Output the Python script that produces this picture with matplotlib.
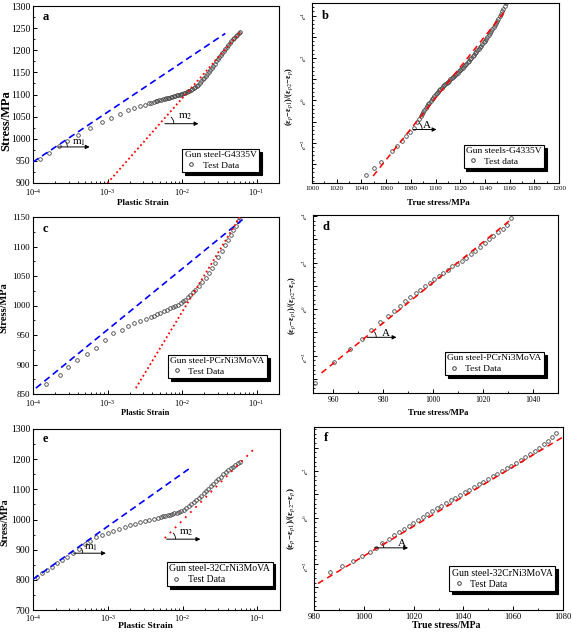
import numpy as np
import matplotlib
matplotlib.use('Agg')
import matplotlib.pyplot as plt
from matplotlib import ticker
from matplotlib.patches import Arc
import matplotlib.transforms as mtransforms

plt.rcParams['font.family'] = ['Liberation Serif', 'DejaVu Serif']
plt.rcParams['mathtext.fontset'] = 'stix'

# ---- panel a: G4335V, log10(plastic strain) vs stress
a_log_strain = [-3.90, -3.78, -3.65, -3.54, -3.39, -3.23, -3.07, -2.95, -2.83, -2.73,
                -2.65, -2.57, -2.50,
                -2.44, -2.41, -2.38, -2.355, -2.33, -2.305, -2.28, -2.255, -2.23, -2.21,
                -2.19, -2.17, -2.15, -2.13, -2.11, -2.09, -2.07, -2.05, -2.03, -2.015,
                -2.00, -1.98, -1.96, -1.94, -1.92, -1.90, -1.88, -1.86, -1.84, -1.82,
                -1.80, -1.78, -1.76, -1.74, -1.72, -1.70, -1.68, -1.66, -1.64, -1.62,
                -1.60, -1.58, -1.56, -1.54, -1.52, -1.50, -1.48, -1.46, -1.44, -1.42,
                -1.40, -1.38, -1.36, -1.34, -1.32, -1.30, -1.28, -1.26, -1.24, -1.22]
a_stress = [954, 968, 983, 995, 1009, 1025, 1037, 1048, 1057, 1064,
            1070, 1074, 1077,
            1080, 1081.5, 1083, 1084.5, 1086, 1087, 1088, 1089, 1090, 1091,
            1092, 1093, 1094, 1095, 1096, 1097, 1098, 1099, 1100, 1101,
            1102, 1103, 1104, 1105.5, 1107, 1108.5, 1110, 1112, 1114, 1116.5,
            1119, 1122.5, 1126, 1130, 1134, 1138, 1142, 1146.5, 1151, 1155.5,
            1160, 1165, 1170, 1175, 1180, 1184.5, 1189, 1194, 1199, 1203.5,
            1208, 1212.5, 1217, 1221, 1225, 1228.5, 1232, 1235, 1238, 1241]
a_blue_log = [-4.0, -1.42]
a_blue_stress = [947.5, 1238]
a_red_log = [-3.0, -1.22]
a_red_stress = [900, 1240]

# ---- panel b: G4335V, true stress vs ln ratio
b_stress = [1044, 1050, 1056, 1065, 1069, 1072.5, 1076.5, 1079.7, 1082.7, 1085.4,
            1087, 1088, 1089, 1090, 1091, 1092, 1093, 1094, 1095, 1096,
            1097, 1098, 1099, 1100, 1101, 1102, 1103, 1104, 1105, 1106,
            1107, 1108, 1109, 1110, 1111, 1112, 1113, 1114, 1115, 1116,
            1117, 1118, 1119, 1120, 1121, 1122, 1123, 1124, 1125, 1126,
            1127, 1128, 1129, 1130, 1131, 1132, 1133, 1134, 1135, 1136,
            1137, 1138, 1139, 1140, 1141, 1142, 1143, 1144, 1145, 1146,
            1147, 1148, 1149, 1150, 1151, 1152, 1153, 1154, 1155, 1156,
            1157]
b_ln = [-3.52, -3.20, -2.91, -2.39, -2.14, -1.92, -1.69, -1.48, -1.28, -1.02,
        -0.86, -0.75, -0.64, -0.55, -0.46, -0.36, -0.27, -0.19, -0.11, -0.03,
        0.05, 0.12, 0.20, 0.28, 0.36, 0.42, 0.48, 0.54, 0.60, 0.66,
        0.72, 0.77, 0.83, 0.88, 0.94, 0.99, 1.04, 1.10, 1.15, 1.20,
        1.26, 1.31, 1.37, 1.43, 1.49, 1.55, 1.61, 1.67, 1.74, 1.81,
        1.88, 1.95, 2.02, 2.09, 2.16, 2.23, 2.30, 2.37, 2.44, 2.51,
        2.58, 2.66, 2.74, 2.82, 2.91, 3.00, 3.09, 3.17, 3.26, 3.35,
        3.45, 3.55, 3.65, 3.75, 3.86, 3.97, 4.08, 4.20, 4.32, 4.45,
        4.58]
b_fit_stress = [1049.5, 1156.8]
b_fit_ln = [-3.57, 4.25]

# ---- panel c: PCrNi3MoVA
c_log_strain = [-3.82, -3.64, -3.53, -3.41, -3.28, -3.16, -3.03, -2.92, -2.81, -2.73,
                -2.64, -2.56, -2.49, -2.42, -2.38, -2.33, -2.29, -2.24, -2.20, -2.16,
                -2.125, -2.09, -2.055, -2.02, -1.99, -1.96, -1.925, -1.89, -1.855, -1.82,
                -1.775, -1.73, -1.685, -1.64, -1.60, -1.56, -1.515, -1.47, -1.425, -1.38,
                -1.345, -1.31, -1.28, -1.25, -1.23]
c_stress = [867.5, 881.6, 895.2, 907.6, 918.4, 928.5, 941.0, 953.4, 959.0, 964.7,
            970.3, 974.3, 977.1, 979.9, 982.8, 985.6, 987.3, 990.1, 992.9, 995.2,
            996.8, 998.6, 1001.2, 1004.2, 1006.8, 1009.9, 1013.9, 1018.4, 1022.5, 1026.8,
            1032.8, 1039.3, 1047.0, 1055.1, 1063.5, 1072.0, 1082.0, 1091.8, 1101.7, 1111.6,
            1119.5, 1127.4, 1135.0, 1142.7, 1150.0]
c_blue_log = [-3.96, -1.18]
c_blue_stress = [860, 1146.6]
c_red_log = [-2.62, -1.22]
c_red_stress = [860, 1151]

# ---- panel d: PCrNi3MoVA
d_stress = [952.7, 960.4, 966.6, 971.4, 975.2, 978.9, 981.8, 984.3, 986.7, 988.8,
            990.9, 993.0, 994.9, 996.8, 998.6, 1000.5, 1002.3, 1003.9, 1005.8, 1007.6,
            1009.5, 1011.4, 1013.2, 1015.1, 1016.9, 1018.8, 1020.6, 1022.2, 1024.1, 1026.0,
            1027.8, 1029.4, 1031.2]
d_ln = [-3.17, -2.27, -1.73, -1.27, -0.89, -0.57, -0.31, -0.07, 0.13, 0.33,
        0.51, 0.69, 0.83, 0.99, 1.13, 1.29, 1.43, 1.54, 1.69, 1.83,
        1.94, 2.07, 2.20, 2.36, 2.51, 2.67, 2.83, 2.99, 3.14, 3.30,
        3.46, 3.61, 3.90]
d_fit_stress = [955.4, 1031.8]
d_fit_ln = [-2.74, 3.90]

# ---- panel e: 32CrNi3MoVA
e_log_strain = [-3.947, -3.882, -3.816, -3.750, -3.684, -3.618, -3.544, -3.465, -3.386, -3.311,
                -3.237, -3.158, -3.083, -3.004, -2.925, -2.851, -2.776, -2.706, -2.640, -2.575,
                -2.509, -2.447, -2.386, -2.325, -2.294, -2.263, -2.232, -2.202, -2.171, -2.140,
                -2.110, -2.079, -2.048, -2.018, -1.985, -1.952, -1.919, -1.886, -1.853, -1.820,
                -1.787, -1.754, -1.720, -1.689, -1.656, -1.623, -1.590, -1.557, -1.524, -1.491,
                -1.458, -1.425, -1.392, -1.360, -1.327, -1.294, -1.265, -1.237]
e_stress = [810.7, 822.9, 834.0, 844.0, 855.0, 865.0, 877.2, 890.5, 903.8, 918.2,
            930.3, 941.4, 949.2, 956.9, 962.5, 969.1, 974.6, 980.2, 985.7, 990.1,
            994.6, 999.0, 1002.3, 1005.6, 1007.8, 1010.1, 1011.7, 1013.4, 1015.6, 1017.8,
            1020.0, 1022.3, 1025.4, 1028.9, 1033.0, 1037.8, 1043.5, 1049.9, 1056.4, 1063.2,
            1070.8, 1078.7, 1086.5, 1094.2, 1102.5, 1110.8, 1118.6, 1126.4, 1134.2, 1141.9,
            1149.2, 1156.3, 1163.0, 1169.5, 1175.2, 1180.6, 1185.8, 1190.6]
e_blue_log = [-4.0, -1.90]
e_blue_stress = [801.9, 1170.7]
e_red_log = [-2.24, -1.01]
e_red_stress = [938.1, 1242.6]

# ---- panel f: 32CrNi3MoVA
f_stress = [986.3, 991.4, 995.7, 999.3, 1002.4, 1005.0, 1007.4, 1010.0, 1012.1, 1014.1,
            1016.1, 1018.0, 1019.9, 1021.8, 1023.6, 1025.5, 1027.4, 1029.3, 1031.1, 1033.0,
            1034.9, 1036.8, 1038.6, 1040.5, 1042.4, 1044.3, 1046.1, 1048.0, 1049.9, 1051.8,
            1053.6, 1055.5, 1057.4, 1059.3, 1061.1, 1063.0, 1064.9, 1066.7, 1068.6, 1070.5,
            1072.4, 1074.0, 1075.6, 1077.3]
f_ln = [-2.33, -2.07, -1.86, -1.66, -1.47, -1.29, -1.10, -0.93, -0.77, -0.63,
        -0.49, -0.36, -0.23, -0.10, 0.03, 0.16, 0.27, 0.40, 0.51, 0.63,
        0.74, 0.86, 0.97, 1.09, 1.20, 1.31, 1.43, 1.54, 1.66, 1.77,
        1.89, 2.00, 2.11, 2.23, 2.34, 2.47, 2.60, 2.73, 2.86, 3.00,
        3.14, 3.29, 3.46, 3.63]
f_fit_stress = [981.6, 1080]
f_fit_ln = [-2.83, 3.46]

W, H = 572, 632
fig = plt.figure(figsize=(W / 100, H / 100), dpi=100)

RATIO_LABEL = '(ε$_p$−ε$_{p1}$)/(ε$_{p2}$−ε$_p$)'


def box(l, t, r, b):
    # pixel box -> figure fraction
    return [l / W, 1 - b / H, (r - l) / W, (b - t) / H]


def angle_arc(ax, x, y, r, theta2):
    tr = fig.dpi_scale_trans + mtransforms.ScaledTranslation(x, y, ax.transData)
    ax.add_patch(Arc((0, 0), 2 * r / 100, 2 * r / 100, theta1=0, theta2=theta2,
                     transform=tr, color='k', lw=0.6))


def slope_mark(ax, x0, x1, y, text, tx, ty, theta):
    ax.annotate('', xy=(x1, y), xytext=(x0, y),
                arrowprops=dict(arrowstyle='-|>', color='k', lw=0.7,
                                mutation_scale=6, shrinkA=0, shrinkB=0))
    angle_arc(ax, x0, y, 9, theta)
    ax.text(tx, ty, text, fontsize=8, ha='center', va='center')


def add_legend(ax, title, label, x1, y0, fs):
    h, = ax.plot([], [], 'o', ms=2.6, mfc='none', mec='#444', mew=0.7)
    leg = ax.legend([h], [label], title=title, loc='lower right',
                    bbox_to_anchor=(x1, y0), borderaxespad=0, fancybox=False,
                    edgecolor='k', shadow={'color': 'k', 'alpha': 1},
                    fontsize=fs, title_fontsize=fs, alignment='left',
                    handlelength=1.4, handletextpad=0.5, borderpad=0.25,
                    labelspacing=0.2, framealpha=1)
    leg.get_frame().set_linewidth(0.8)


def finish(ax, letter, ly_letter, xpad):
    ax.tick_params(which='both', direction='in', top=False, right=False)
    ax.tick_params(axis='x', pad=xpad)
    ax.tick_params(axis='y', pad=2)
    ax.tick_params(which='major', length=3, width=0.7)
    ax.tick_params(which='minor', length=1.5, width=0.6)
    ax.text(0.04, ly_letter, letter, transform=ax.transAxes, fontsize=9,
            fontweight='bold', va='center')
    for s in ax.spines.values():
        s.set_linewidth(0.8)


def strain_panel(ax, ls, st, bl, bs, rl, rs, ylim, ystep, red_ls, ysize,
                 xlab, ylab):
    ax.set_xscale('log')
    ax.plot(10 ** np.array(ls), st, 'o', ms=2.6, mfc='none', mec='#444', mew=0.6, zorder=2)
    ax.plot(10 ** np.array(bl), bs, color='#0000ff', ls=(0, (4, 2.5)), lw=1.2, zorder=3)
    ax.plot(10 ** np.array(rl), rs, color='red', ls=red_ls, lw=1.3, zorder=3)
    ax.set_xlim(1e-4, 0.2)
    ax.set_ylim(*ylim)
    ax.yaxis.set_major_locator(ticker.MultipleLocator(ystep))
    ax.yaxis.set_minor_locator(ticker.MultipleLocator(ystep / 2))
    ax.xaxis.set_minor_locator(ticker.LogLocator(subs=np.arange(2, 10)))
    ax.xaxis.set_minor_formatter(ticker.NullFormatter())
    ax.tick_params(axis='x', labelsize=6)
    ax.tick_params(axis='y', labelsize=ysize)
    # xlab / ylab: (x, y, fontsize) of the axis labels in axes fraction
    ax.set_xlabel('Plastic Strain', fontsize=xlab[2], fontweight='bold')
    ax.set_ylabel('Stress/MPa', fontsize=ylab[2], fontweight='bold')
    ax.xaxis.set_label_coords(xlab[0], xlab[1])
    ax.yaxis.set_label_coords(ylab[0], ylab[1])


def ln_formatter(v, pos):
    n = int(round(np.log(v)))
    return '$e^{%d}$' % n if n % 2 == 0 else ''


def ln_panel(ax, st, ln, fs_, fl, xlim, ylim, xstep, xsize, xlab, ylab):
    ax.set_yscale('log', base=np.e)
    ax.plot(st, np.exp(ln), 'o', ms=2.6, mfc='none', mec='#444', mew=0.6, zorder=2)
    ax.plot(fs_, np.exp(fl), color='red', ls=(0, (4, 3)), lw=1.1, zorder=3)
    ax.set_xlim(*xlim)
    ax.set_ylim(np.exp(ylim[0]), np.exp(ylim[1]))
    ax.xaxis.set_major_locator(ticker.MultipleLocator(xstep))
    ax.xaxis.set_minor_locator(ticker.MultipleLocator(xstep / 2))
    ax.yaxis.set_major_locator(ticker.FixedLocator(np.exp(np.arange(-6, 7))))
    ax.yaxis.set_major_formatter(ticker.FuncFormatter(ln_formatter))
    ax.yaxis.set_minor_locator(ticker.FixedLocator(np.exp(np.arange(-6, 7, 0.2))))
    ax.yaxis.set_minor_formatter(ticker.NullFormatter())
    ax.tick_params(axis='x', labelsize=xsize)
    ax.tick_params(axis='y', labelsize=5, labelrotation=90)
    ax.set_xlabel('True stress/MPa', fontsize=xlab[2], fontweight='bold')
    ax.set_ylabel(RATIO_LABEL, fontsize=ylab[2], fontweight='bold')
    ax.xaxis.set_label_coords(xlab[0], xlab[1])
    ax.yaxis.set_label_coords(ylab[0], ylab[1])


# a
ax = fig.add_axes(box(33, 6, 279, 183))
strain_panel(ax, a_log_strain, a_stress, a_blue_log, a_blue_stress, a_red_log, a_red_stress,
             (900, 1300), 50, (0, (1, 1.5)), 7, (0.447, -0.09, 6.5), (-0.085, 0.35, 9))
finish(ax, 'a', 0.94, 3)
slope_mark(ax, 10 ** -3.66, 10 ** -3.24, 981.5, 'm$_1$', 10 ** -3.39, 991, 34)
slope_mark(ax, 10 ** -2.23, 10 ** -1.78, 1034, 'm$_2$', 10 ** -1.95, 1049, 49)
add_legend(ax, 'Gun steel-G4335V', 'Test Data', 0.919, 0.062, 6.8)

# b
ax = fig.add_axes(box(312, 3, 559, 183))
ln_panel(ax, b_stress, b_ln, b_fit_stress, b_fit_ln, (1000, 1200), (-3.9, 4.6), 20, 5,
         (0.51, -0.09, 6.5), (-0.07, 0.48, 6))
finish(ax, 'b', 0.93, 2)
slope_mark(ax, 1081.9, 1100.8, np.exp(-1.375), 'A', 1092.7, np.exp(-1.2), 51)
add_legend(ax, 'Gun steels-G4335V', 'Test data', 0.939, 0.083, 6.8)

# c
ax = fig.add_axes(box(33, 217, 279, 394))
strain_panel(ax, c_log_strain, c_stress, c_blue_log, c_blue_stress, c_red_log, c_red_stress,
             (850, 1150), 50, (0, (1, 1.5)), 6.5, (0.458, -0.085, 6), (-0.1, 0.49, 7.5))
finish(ax, 'c', 0.93, 3)
add_legend(ax, 'Gun steel-PCrNi3MoVA', 'Test Data', 0.951, 0.09, 6.8)

# d
ax = fig.add_axes(box(313, 215, 558, 393))
ln_panel(ax, d_stress, d_ln, d_fit_stress, d_fit_ln, (952, 1050), (-3.6, 4.04), 20, 5.5,
         (0.51, -0.09, 6.2), (-0.06, 0.49, 6))
finish(ax, 'd', 0.93, 2)
slope_mark(ax, 973.7, 985.4, np.exp(-1.21), 'A', 981, np.exp(-1.03), 39)
add_legend(ax, 'Gun steel-PCrNi3MoVA', 'Test Data', 0.943, 0.10, 6.8)

# e
ax = fig.add_axes(box(33, 429, 280, 610))
strain_panel(ax, e_log_strain, e_stress, e_blue_log, e_blue_stress, e_red_log, e_red_stress,
             (700, 1300), 100, (0, (1, 3)), 7, (0.456, -0.066, 6.8), (-0.095, 0.486, 7))
finish(ax, 'e', 0.945, 2.5)
slope_mark(ax, 10 ** -3.456, 10 ** -3.026, 888.3, 'm$_1$', 10 ** -3.224, 905, 35)
slope_mark(ax, 10 ** -2.215, 10 ** -1.763, 934.8, 'm$_2$', 10 ** -1.952, 955, 45)
add_legend(ax, 'Gun steel-32CrNi3MoVA', 'Test Data', 0.97, 0.13, 7)

# f
ax = fig.add_axes(box(314, 427, 563, 610))
ln_panel(ax, f_stress, f_ln, f_fit_stress, f_fit_ln, (980, 1080), (-3.97, 3.89), 20, 6.2,
         (0.53, -0.06, 7), (-0.07, 0.5, 6.5))
finish(ax, 'f', 0.94, 2)
slope_mark(ax, 1004.4, 1017.8, np.exp(-1.3), 'A', 1015.1, np.exp(-1.11), 31)
add_legend(ax, 'Gun steel-32CrNi3MoVA', 'Test Data', 0.968, 0.104, 7)

fig.savefig('out.png', dpi=100)
